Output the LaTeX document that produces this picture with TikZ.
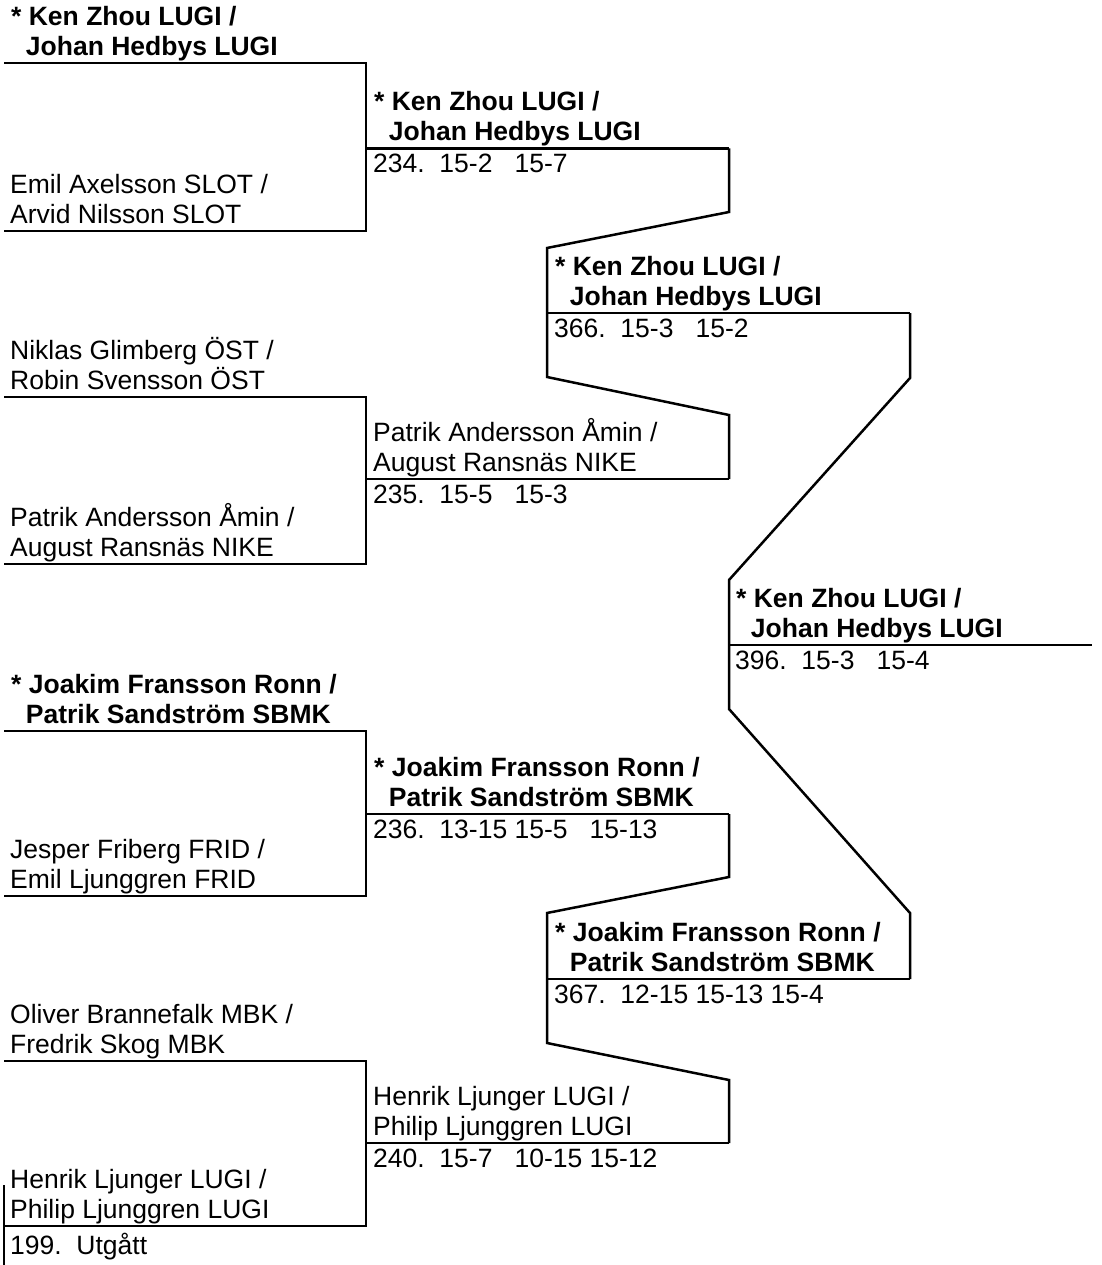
\documentclass[tikz,border=0pt]{standalone}
\usepackage{fontspec}
\setmainfont{Liberation Sans}
\newcommand{\ind}{\hspace*{0.556em}}
\begin{document}
\begin{tikzpicture}[x=1pt,y=-1pt,
  br/.style={line width=2.5pt, line join=miter},
  lbl/.style={anchor=base west, inner sep=0pt, font=\fontsize{26.5}{30}\selectfont},
  win/.style={anchor=base west, inner sep=0pt, font=\fontsize{26.5}{30}\selectfont\bfseries},
  sc/.style={anchor=base west, inner sep=0pt, font=\fontsize{26.5}{30}\selectfont}]
\useasboundingbox (0,0) rectangle (1101,1265);

% ---------- round 1 coordinates ----------
\coordinate (a1s) at (4,63);   \coordinate (a1e) at (366,63);
\coordinate (a2s) at (4,231);  \coordinate (a2e) at (366,231);
\coordinate (b1s) at (4,397);  \coordinate (b1e) at (366,397);
\coordinate (b2s) at (4,564);  \coordinate (b2e) at (366,564);
\coordinate (c1s) at (4,731);  \coordinate (c1e) at (366,731);
\coordinate (c2s) at (4,896);  \coordinate (c2e) at (366,896);
\coordinate (d1s) at (4,1061); \coordinate (d1e) at (366,1061);
\coordinate (d2s) at (4,1226); \coordinate (d2e) at (366,1226);
\coordinate (d2up) at (4,1185); \coordinate (d2dn) at (4,1265);

% ---------- round 2 coordinates ----------
\coordinate (m234s) at (366,148.5); \coordinate (m234e) at (729,148.5);
\coordinate (m235s) at (366,479);   \coordinate (m235e) at (729,479);
\coordinate (m236s) at (366,814);   \coordinate (m236e) at (729,814);
\coordinate (m240s) at (366,1143);  \coordinate (m240e) at (729,1143);

% ---------- round 3 coordinates ----------
\coordinate (m366s) at (547,313);  \coordinate (m366e) at (910,313);
\coordinate (m367s) at (547,979);  \coordinate (m367e) at (910,979);
\coordinate (u1) at (729,212); \coordinate (u2) at (547,248);
\coordinate (u3) at (547,377); \coordinate (u4) at (729,415);
\coordinate (l1) at (729,877); \coordinate (l2) at (547,913);
\coordinate (l3) at (547,1043); \coordinate (l4) at (729,1080);

% ---------- round 4 coordinates ----------
\coordinate (m396s) at (729,645); \coordinate (m396e) at (1092,645);
\coordinate (f1) at (910,378); \coordinate (f2) at (729,580);
\coordinate (f3) at (729,709); \coordinate (f4) at (910,913);

% ---------- bracket lines ----------
\draw[br] (a1s) -- (a1e) -- (a2e) -- (a2s);
\draw[br] (b1s) -- (b1e) -- (b2e) -- (b2s);
\draw[br] (c1s) -- (c1e) -- (c2e) -- (c2s);
\draw[br] (d1s) -- (d1e) -- (d2e) -- (d2s);
\draw[br] (d2up) -- (d2dn);

\draw[br] (m234s) -- (m234e);
\draw[br] (m235s) -- (m235e);
\draw[br] (m236s) -- (m236e);
\draw[br] (m240s) -- (m240e);

\draw[br] (m234e) -- (u1) -- (u2) -- (u3) -- (u4) -- (m235e);
\draw[br] (m236e) -- (l1) -- (l2) -- (l3) -- (l4) -- (m240e);
\draw[br] (m366s) -- (m366e);
\draw[br] (m367s) -- (m367e);

\draw[br] (m366e) -- (f1) -- (f2) -- (f3) -- (f4) -- (m367e);
\draw[br] (m396s) -- (m396e);

% ---------- round 1 labels ----------
\node[win] (ta1a) at (11,25.5) {* Ken Zhou LUGI /};
\node[win] (ta1b) at (11,55.5) {\ind Johan Hedbys LUGI};
\node[lbl] (ta2a) at (10,193.5) {Emil Axelsson SLOT /};
\node[lbl] (ta2b) at (10,223.5) {Arvid Nilsson SLOT};
\node[lbl] (tb1a) at (10,359.5) {Niklas Glimberg ÖST /};
\node[lbl] (tb1b) at (10,389.5) {Robin Svensson ÖST};
\node[lbl] (tb2a) at (10,526.5) {Patrik Andersson Åmin /};
\node[lbl] (tb2b) at (10,556.5) {August Ransnäs NIKE};
\node[win] (tc1a) at (11,693.5) {* Joakim Fransson Ronn /};
\node[win] (tc1b) at (11,723.5) {\ind Patrik Sandström SBMK};
\node[lbl] (tc2a) at (10,858.5) {Jesper Friberg FRID /};
\node[lbl] (tc2b) at (10,888.5) {Emil Ljunggren FRID};
\node[lbl] (td1a) at (10,1023.5) {Oliver Brannefalk MBK /};
\node[lbl] (td1b) at (10,1053.5) {Fredrik Skog MBK};
\node[lbl] (td2a) at (10,1188.5) {Henrik Ljunger LUGI /};
\node[lbl] (td2b) at (10,1218.5) {Philip Ljunggren LUGI};
\node[sc]  (sd2)  at (10,1254) {199.\ \ Utgått};

% ---------- round 2 labels ----------
\node[win] (t234a) at (374,111) {* Ken Zhou LUGI /};
\node[win] (t234b) at (374,141) {\ind Johan Hedbys LUGI};
\node[sc]  (s234)  at (373,172.5) {234.\ \ 15-2\ \ \ 15-7};
\node[lbl] (t235a) at (373,441.5) {Patrik Andersson Åmin /};
\node[lbl] (t235b) at (373,471.5) {August Ransnäs NIKE};
\node[sc]  (s235)  at (373,503) {235.\ \ 15-5\ \ \ 15-3};
\node[win] (t236a) at (374,776.5) {* Joakim Fransson Ronn /};
\node[win] (t236b) at (374,806.5) {\ind Patrik Sandström SBMK};
\node[sc]  (s236)  at (373,838) {236.\ \ 13-15\ 15-5\ \ \ 15-13};
\node[lbl] (t240a) at (373,1105.5) {Henrik Ljunger LUGI /};
\node[lbl] (t240b) at (373,1135.5) {Philip Ljunggren LUGI};
\node[sc]  (s240)  at (373,1167) {240.\ \ 15-7\ \ \ 10-15\ 15-12};

% ---------- round 3 labels ----------
\node[win] (t366a) at (555,275.5) {* Ken Zhou LUGI /};
\node[win] (t366b) at (555,305.5) {\ind Johan Hedbys LUGI};
\node[sc]  (s366)  at (554,337) {366.\ \ 15-3\ \ \ 15-2};
\node[win] (t367a) at (555,941.5) {* Joakim Fransson Ronn /};
\node[win] (t367b) at (555,971.5) {\ind Patrik Sandström SBMK};
\node[sc]  (s367)  at (554,1003) {367.\ \ 12-15\ 15-13\ 15-4};

% ---------- round 4 labels ----------
\node[win] (t396a) at (736,607.5) {* Ken Zhou LUGI /};
\node[win] (t396b) at (736,637.5) {\ind Johan Hedbys LUGI};
\node[sc]  (s396)  at (735,669) {396.\ \ 15-3\ \ \ 15-4};
\end{tikzpicture}
\end{document}
